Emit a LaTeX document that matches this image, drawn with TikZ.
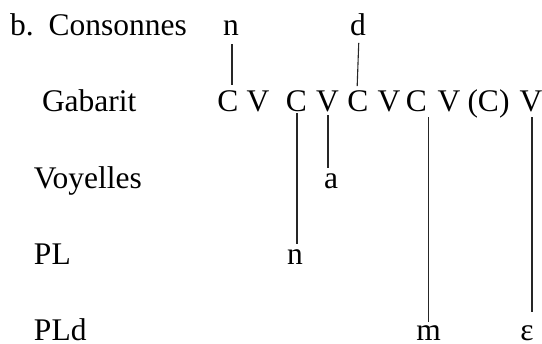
\documentclass[tikz,border=0pt]{standalone}
\usepackage{fontspec}
\setmainfont{Liberation Serif}
\begin{document}
\begin{tikzpicture}[x=1pt,y=-1pt,
  every node/.style={inner sep=0pt, outer sep=0pt, font=\fontsize{31.5}{36}\selectfont},
  lbl/.style={anchor=base west},
  seg/.style={anchor=base},
  link/.style={line width=1.1pt, draw=black!85}]
\useasboundingbox (0,0) rectangle (542,344);
% row labels
\node[lbl] (cons) at (10,35.5) {b.\hspace{15pt}Consonnes};
\node[lbl] (gab) at (42,112) {Gabarit};
\node[lbl] (voy) at (34,189) {Voyelles};
\node[lbl] (pl) at (34,265) {PL};
\node[lbl] (pld) at (34,340.5) {PLd};
% consonants
\node[seg] (n) at (231,35.5) {n};
\node[seg] (d) at (358,35.5) {d};
% template
\node[seg] (C1) at (228,112) {C};
\node[seg] (V1) at (258,112) {V};
\node[seg] (C2) at (296.5,112) {C};
\node[seg] (V2) at (327.5,112) {V};
\node[seg] (C3) at (358,112) {C};
\node[seg] (V3) at (389,112) {V};
\node[seg] (C4) at (416.5,112) {C};
\node[seg] (V4) at (449,112) {V};
\node[seg] (C5) at (488.5,112) {(C)};
\node[seg] (V5) at (531,112) {V};
% vowels
\node[seg] (a) at (331,189) {a};
% PL
\node[seg] (Pn) at (295,265) {n};
% PLd
\node[seg] (m) at (428.5,340.5) {m};
\node[seg] (eps) at (527,340.5) {ε};
% association lines
\draw[link, shorten <=9pt, shorten >=6pt] ([xshift=1pt]n.south) -- ([xshift=1pt]n.south |- C1.north);
\draw[link, shorten <=7pt, shorten >=5pt] ([xshift=1pt]d.south) -- ([xshift=-1pt]C3.north);
\draw[link, shorten <=1pt, shorten >=6pt] ([xshift=0.5pt]C2.south) -- ([xshift=0.5pt]C2.south |- Pn.north);
\draw[link, shorten <=3pt, shorten >=6pt] ([xshift=0.5pt]V2.south) -- ([xshift=0.5pt]V2.south |- a.north);
\draw[link, shorten <=5pt, shorten >=4pt] (C4.south -| m.north) -- (m.north);
\draw[link, shorten <=5pt, shorten >=14pt] ([xshift=1pt]V5.south) -- ([xshift=1pt]V5.south |- eps.north);
\end{tikzpicture}
\end{document}
